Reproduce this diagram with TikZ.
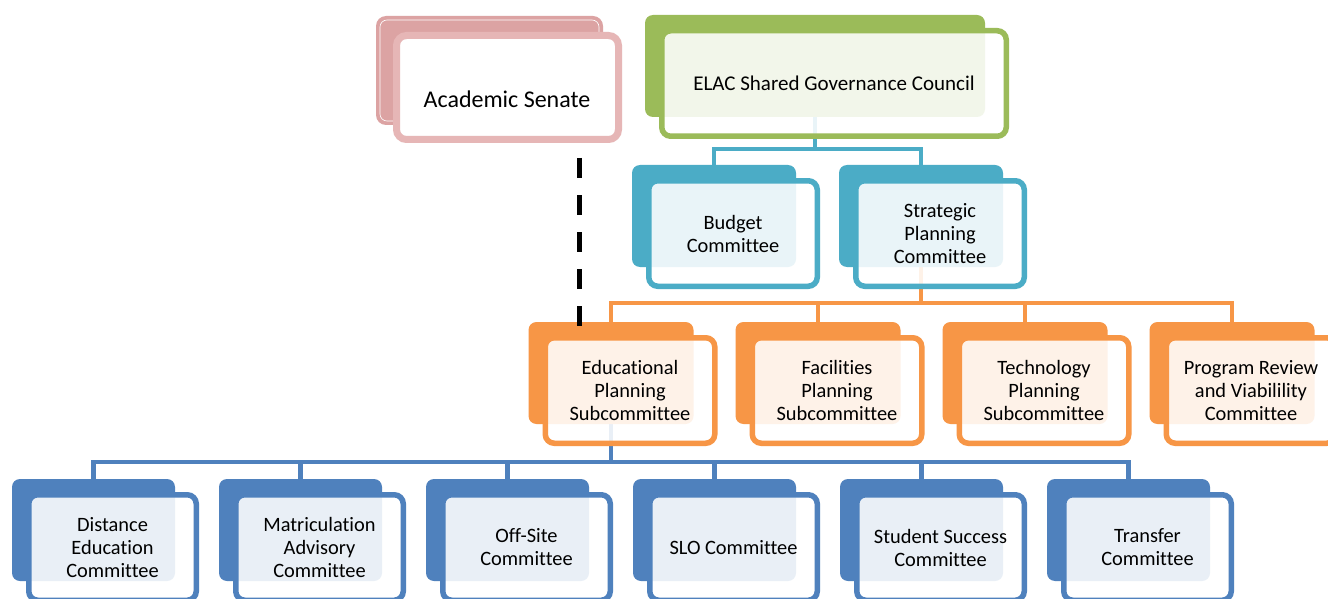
\documentclass[tikz,border=0pt]{standalone}
\usepackage{fontspec}
\setmainfont[Ligatures=CommonOff]{Carlito}
\definecolor{cgreen}{HTML}{9BBB59}
\definecolor{cteal}{HTML}{4BACC6}
\definecolor{corange}{HTML}{F79646}
\definecolor{cblue}{HTML}{4F81BD}
\definecolor{cpinkB}{HTML}{DCA3A3}
\definecolor{cpinkF}{HTML}{E6B6B6}
\newcommand\boxfont{\fontsize{20.4}{23}\selectfont}
\tikzset{
  backbox/.style={draw=none, fill=#1, rounded corners=8pt, minimum height=102pt, inner sep=0pt},
  frontbox/.style={draw=#1, line width=5.5pt, fill=white, fill opacity=0.88, draw opacity=1, text opacity=1,
    rounded corners=9pt, minimum height=105.5pt, align=center, inner sep=0pt, font=\boxfont},
  conn/.style={draw=#1, line width=4.5pt},
  senline/.style={draw=black, line width=5pt, dash pattern=on 20pt off 17pt},
}
\newcommand\orgunit[6]{%
  \node[backbox=#2, minimum width=#5pt] (#1B) at (#3,#4) {};
  \node[frontbox=#2, minimum width={(#5+4.5)*1pt}] (#1) at ([shift={(19,17.5)}]#1B.center) {#6};
}
\begin{document}
\begin{tikzpicture}[x=1pt,y=-1pt]
\useasboundingbox (0,0) rectangle (1328,599);
\clip (0,0) rectangle (1328,599);
\fill[white] (0,0) rectangle (1328,599);

% ---- Academic Senate
\node[draw=none, fill=cpinkB, rounded corners=10pt, minimum width=227pt, minimum height=109pt, inner sep=0pt] (asB) at (489.5,70.5) {};
\draw[white, line width=0.6pt, rounded corners=7pt] (380,20) rectangle (599,121);
\node[draw=cpinkF, line width=7pt, fill=white, rounded corners=10pt, minimum width=222pt, minimum height=104pt, inner sep=0pt] (asF) at (507.5,87.5) {};
\node[font=\fontsize{24}{28}\selectfont, inner sep=0pt] (asT) at (507,99) {Academic Senate};

% ---- centres of back boxes used for connectors (connectors lie under the boxes)
\path (815,66) coordinate (elacC) (714,216) coordinate (budC) (921,216) coordinate (strC)
      (611,373) coordinate (eduC);

% ---- connectors
\draw[conn=cteal] ([yshift=-51pt]elacC) -- ++(0,32) coordinate (tj) -| ([yshift=51pt]budC);
\draw[conn=cteal] (tj) -| ([yshift=51pt]strC);
\draw[conn=corange] ([yshift=-51pt]strC) -- ++(0,36) coordinate (oj) -| (611,322);
\draw[conn=corange] (oj) -| (818,322);
\draw[conn=corange] (oj) -| (1025,322);
\draw[conn=corange] (oj) -| (1232,322);
\draw[conn=cblue] ([yshift=-51pt]eduC) -- ++(0,38) coordinate (bj) -| (93.5,479);
\draw[conn=cblue] (bj) -| (300.5,479);
\draw[conn=cblue] (bj) -| (507.5,479);
\draw[conn=cblue] (bj) -| (714.5,479);
\draw[conn=cblue] (bj) -| (921.5,479);
\draw[conn=cblue] (bj) -| (1128.5,479);

% ---- ELAC
\node[backbox=cgreen, minimum width=340pt] (elacB) at (elacC) {};
\node[frontbox=cgreen, minimum width=344.5pt, font=\fontsize{21}{24}\selectfont] (elac) at ([shift={(19,17.5)}]elacB.center) {ELAC Shared Governance Council};

% ---- second level
\orgunit{bud}{cteal}{714}{216}{164}{Budget\\Committee}
\orgunit{str}{cteal}{921}{216}{164}{Strategic\\Planning\\Committee}

% ---- third level
\orgunit{edu}{corange}{611}{373}{165}{Educational\\Planning\\Subcommittee}
\orgunit{fac}{corange}{818}{373}{165}{Facilities\\Planning\\Subcommittee}
\orgunit{tec}{corange}{1025}{373}{165}{Technology\\Planning\\Subcommittee}
\orgunit{prv}{corange}{1232}{373}{165}{Program Review\\and Viabilility\\Committee}

% ---- fourth level
\orgunit{dis}{cblue}{93.5}{530}{163}{Distance\\Education\\Committee}
\orgunit{mat}{cblue}{300.5}{530}{163}{Matriculation\\Advisory\\Committee}
\orgunit{off}{cblue}{507.5}{530}{163}{Off-Site\\Committee}
\orgunit{slo}{cblue}{714.5}{530}{163}{SLO Committee}
\orgunit{stu}{cblue}{921.5}{530}{163}{Student Success\\Committee}
\orgunit{tra}{cblue}{1128.5}{530}{163}{Transfer\\Committee}

% ---- dashed link Academic Senate -> Educational Planning
\coordinate (d1) at (579,158);
\coordinate (d2) at (579,328);
\draw[senline] (d1) -- (d2);
\end{tikzpicture}
\end{document}
